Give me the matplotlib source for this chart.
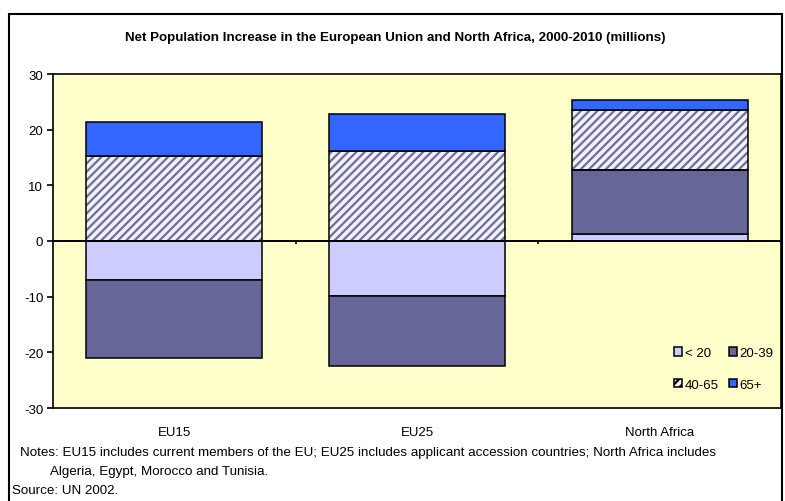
import numpy as np
import matplotlib
matplotlib.use("Agg")
import matplotlib.pyplot as plt
from matplotlib.patches import Patch, Rectangle

plt.rcParams['font.family'] = ['Liberation Sans', 'DejaVu Sans']
plt.rcParams['hatch.linewidth'] = 1.6
plt.rcParams['axes.unicode_minus'] = False

# Data (millions)
regions = ['EU15', 'EU25', 'North Africa']
age_groups = ['< 20', '20-39', '40-65', '65+']
under20 = [-7.0, -9.8, 1.3]
age20_39 = [-14.0, -12.6, 11.4]
age40_65 = [15.2, 16.2, 10.8]
age65plus = [6.2, 6.6, 1.8]

series = [under20, age20_39, age40_65, age65plus]
colors = ['#CCCCFF', '#666699', '#F0F0F6', '#3366FF']
hatches = [None, None, '////', None]
hatch_color = '#6E6E9C'

fig = plt.figure(figsize=(7.85, 5.02), dpi=100)
ax = fig.add_axes([53/785, 1 - 409/502, (781 - 53)/785, (409 - 75)/502])
ax.set_facecolor('#FFFFCC')

x = np.arange(len(regions))
width = 0.725
pos_base = np.zeros(len(regions))
neg_base = np.zeros(len(regions))

for vals, col, h in zip(series, colors, hatches):
    vals = np.array(vals)
    bottoms = np.where(vals >= 0, pos_base, neg_base)
    if h:
        ax.bar(x, vals, width, bottom=bottoms, color=col, edgecolor=hatch_color,
               linewidth=0, hatch=h, zorder=2)
        ax.bar(x, vals, width, bottom=bottoms, facecolor='none', edgecolor='black',
               linewidth=1.1, zorder=3)
    else:
        ax.bar(x, vals, width, bottom=bottoms, color=col, edgecolor='black',
               linewidth=1.1, zorder=3)
    pos_base = pos_base + np.where(vals >= 0, vals, 0)
    neg_base = neg_base + np.where(vals < 0, vals, 0)

# zero line with category separators
ax.axhline(0, color='black', linewidth=1.4, zorder=4)
ax.vlines(x[:-1] + 0.5, -0.6, 0, color='black', linewidth=1.2, zorder=4)

ax.set_xlim(-0.5, len(regions) - 0.5)
ax.set_ylim(-30, 30)
ax.set_yticks(np.arange(-30, 31, 10))
ax.set_xticks(x)
ax.set_xticklabels(regions)
ax.tick_params(axis='x', length=0, pad=13, labelsize=9.5)
ax.tick_params(axis='y', direction='out', length=4, width=1.2, pad=3, labelsize=9.5)
for s in ax.spines.values():
    s.set_linewidth(1.2)
    s.set_color('black')

handles = []
for lab, col, h in zip(age_groups, colors, hatches):
    if h:
        handles.append(Patch(facecolor=col, edgecolor='black', hatch=h, linewidth=1.1, label=lab))
    else:
        handles.append(Patch(facecolor=col, edgecolor='black', linewidth=1.1, label=lab))
# legend filled row by row
order = [0, 2, 1, 3]
ax.legend(handles=[handles[i] for i in order], ncol=2, loc='lower right',
          bbox_to_anchor=(1.004, 0.02), frameon=False, fontsize=9.5,
          handlelength=0.6, handleheight=0.6, handletextpad=0.2,
          columnspacing=0.75, labelspacing=1.5, borderpad=0.3)

fig.text(395/785, 1 - 38/502,
         'Net Population Increase in the European Union and North Africa, 2000-2010 (millions)',
         ha='center', va='center', fontsize=9.6, fontweight='bold')
fig.text(20/785, 1 - 453/502,
         'Notes: EU15 includes current members of the EU; EU25 includes applicant accession countries; North Africa includes',
         ha='left', va='center', fontsize=9.6)
fig.text(50/785, 1 - 472/502, 'Algeria, Egypt, Morocco and Tunisia.',
         ha='left', va='center', fontsize=9.6)
fig.text(12/785, 1 - 491/502, 'Source: UN 2002.', ha='left', va='center', fontsize=9.6)

# outer chart frame
fig.add_artist(Rectangle((9/785, -0.05), (782 - 9)/785, 1 - 15/502 + 0.05,
                         transform=fig.transFigure, fill=False, edgecolor='black',
                         linewidth=1.5))

fig.savefig('out.png', dpi=100)
